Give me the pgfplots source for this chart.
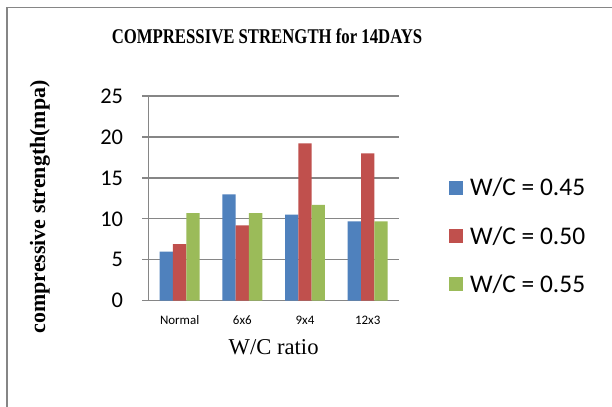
\documentclass[border=0pt]{standalone}
\usepackage{pgfplots}
\pgfplotsset{compat=1.18}
\usepackage{fontspec}
\setmainfont{Liberation Serif}
\newfontfamily\calib{Carlito}
\newfontfamily\titlefont[FakeStretch=0.8]{Liberation Serif}
\definecolor{cblue}{HTML}{4F81BD}
\definecolor{cred}{HTML}{C0504D}
\definecolor{cgreen}{HTML}{9BBB59}
\definecolor{gridgray}{HTML}{868686}
\begin{document}
\begin{tikzpicture}
\useasboundingbox (0,0) rectangle (612bp,407bp);
\fill[white] (0,0) rectangle (612bp,407bp);
\draw[gridgray, line width=1.5bp] (7bp,-5bp) -- (7bp,399.5bp) -- (620bp,399.5bp);
\begin{axis}[
  at={(148.3bp,106.3bp)}, anchor=south west,
  scale only axis, width=250.7bp, height=204.7bp,
  ybar=0pt, bar width=13.3bp,
  xmin=-0.5, xmax=3.5, ymin=0, ymax=25,
  ytick={0,5,10,15,20,25},
  xtick=data, xticklabels={Normal,6x6,9x4,12x3},
  axis x line*=bottom, axis y line*=left,
  axis line style={gridgray, line width=1.3bp, -},
  ymajorgrids, grid style={gridgray, line width=1.3bp},
  tick align=outside, major tick length=6bp,
  ytick style={gridgray, line width=1.3bp},
  xtick style={draw=none},
  /pgf/number format/assume math mode=true,
  yticklabel style={font=\calib\fontsize{22.5}{22.5}\selectfont, anchor=east, inner sep=0pt, xshift=-19bp},
  xticklabel style={font=\calib\fontsize{13}{13}\selectfont, anchor=base, inner sep=0pt, yshift=-17.5bp},
  xlabel={W/C ratio},
  xlabel style={font=\fontsize{22.7}{22.7}\selectfont, at={(axis description cs:0.5,-0.226)}, anchor=center},
  ylabel={\bfseries compressive strength(mpa)},
  ylabel style={font=\fontsize{22}{22}\selectfont, at={(axis description cs:-0.432,0.458)}, anchor=center},
  title={\titlefont\fontsize{21}{21}\selectfont\bfseries COMPRESSIVE STRENGTH for 14DAYS},
  title style={at={(axis description cs:0.4735,1.264)}, anchor=center},
  legend style={at={(axis description cs:1.1995,0.316)}, anchor=west, draw=none, fill=none, inner sep=0pt, outer sep=0pt,
    row sep=32bp, font=\calib\fontsize{25.5}{25.5}\selectfont,
    nodes={inner sep=0pt, text height=16.4bp, text depth=0pt},
    /tikz/every odd column/.style={column sep=7bp}},
  legend cell align=left,
  legend image code/.code={\fill[#1] (0bp,-7bp) rectangle (14bp,7bp);},
]
\addplot[fill=cblue, draw=none] coordinates {(0,6) (1,13) (2,10.5) (3,9.7)};
\addplot[fill=cred, draw=none] coordinates {(0,6.9) (1,9.2) (2,19.2) (3,18)};
\addplot[fill=cgreen, draw=none] coordinates {(0,10.7) (1,10.7) (2,11.7) (3,9.7)};
\legend{W/C = 0.45, W/C = 0.50, W/C = 0.55}
\end{axis}
\end{tikzpicture}
\end{document}
